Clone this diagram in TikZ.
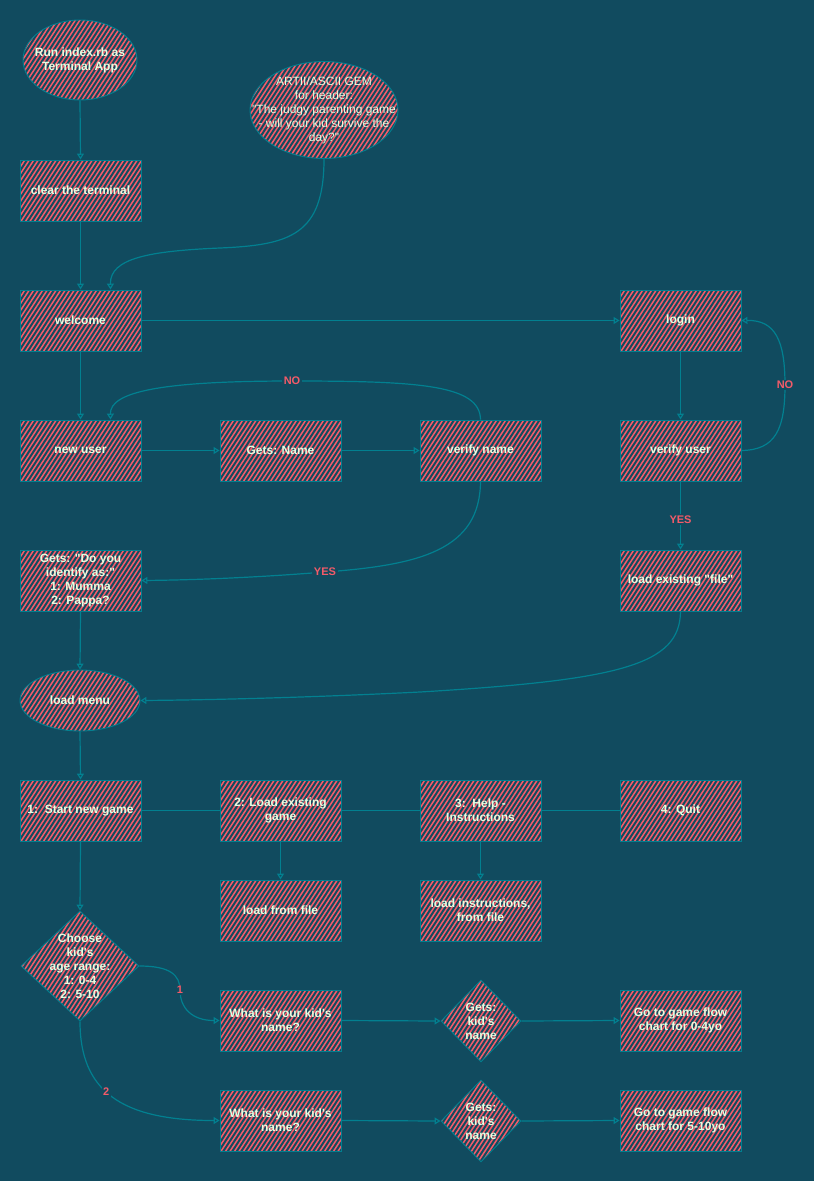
\documentclass[tikz,border=0pt]{standalone}
\usepackage{fontspec}
\setmainfont{Liberation Sans}[Ligatures=TeXOff]
\usetikzlibrary{shapes.geometric,arrows.meta}
\definecolor{bg}{HTML}{114B5F}
\definecolor{hatchred}{HTML}{F45B69}
\definecolor{edgeteal}{HTML}{028090}
\definecolor{txt}{HTML}{E4FDE1}
\begin{document}
\begin{tikzpicture}[x=1pt,y=-1pt,
  hatch/.style={path picture={
    \foreach \k in {-125,-120.5,...,125}{
      \draw[line width=1.5pt, hatchred] ([xshift=\k pt]path picture bounding box.center) ++(237:80pt) -- ++(57:160pt);
    }}},
  nodetext/.style={text=txt, font=\bfseries\fontsize{12}{14}\selectfont, align=center, inner sep=0pt},
  plaintext/.style={text=txt, font=\fontsize{12}{14}\selectfont, align=center, inner sep=0pt},
  shapebase/.style={draw=edgeteal, line width=0.9pt, hatch, nodetext},
  box/.style={shapebase, rectangle, minimum width=121pt, minimum height=61pt},
  oval/.style={shapebase, ellipse},
  dia/.style={shapebase, diamond},
  flow/.style={draw=edgeteal, line width=1.2pt, -{Triangle[open,length=6pt,width=7pt]}},
  link/.style={draw=edgeteal, line width=1.2pt},
  lbl/.style={fill=bg, text=hatchred, font=\bfseries\fontsize{11}{13}\selectfont, inner sep=1.5pt}
]
\fill[bg] (0,0) rectangle (814,1181);
\useasboundingbox (0,0) rectangle (814,1181);

% start-up
\node[oval, minimum width=114pt, minimum height=80pt,
      label={[nodetext]center:{Run index.rb as\\Terminal App}}] (run) at (80,60) {};
\node[oval, minimum width=148pt, minimum height=97pt,
      label={[plaintext]center:{ARTII/ASCII GEM\\for header:\\"The judgy parenting game\\- will your kid survive the\\day?"}}] (art) at (324,110) {};
\node[box] (clear) at (80.5,190.5) {clear the terminal};

% user handling
\node[box] (welcome) at (80.5,320.5) {welcome};
\node[box] (login) at (680.5,320.5) {login};
\node[box] (newuser) at (80.5,450.5) {new user};
\node[box] (getsname) at (280.5,450.5) {Gets: Name};
\node[box] (verifyname) at (480.5,450.5) {verify name};
\node[box] (verifyuser) at (680.5,450.5) {verify user};
\node[box] (identify) at (80.5,580.5) {Gets: "Do you\\identify as:"\\1: Mumma\\2: Pappa?};
\node[box] (loadfile) at (680.5,580.5) {load existing "file"};

% menu
\node[oval, minimum width=120pt, minimum height=61pt,
      label={[nodetext]center:load menu}] (menu) at (80,700.5) {};
\node[box] (start) at (80.5,810.5) {1:\ \ Start new game};
\node[box] (loadgame) at (280.5,810.5) {2: Load existing\\game};
\node[box] (help) at (480.5,810.5) {3:\ \ Help -\\Instructions};
\node[box] (quit) at (680.5,810.5) {4: Quit};
\node[box] (fromfile) at (280.5,910.5) {load from file};
\node[box] (instr) at (480.5,910.5) {load instructions,\\from file};

% new game
\node[dia, minimum width=118pt, minimum height=110pt,
      label={[nodetext]center:{Choose\\kid's\\age range:\\1: 0-4\\2: 5-10}}] (choose) at (80,966) {};
\node[box] (what1) at (280.5,1020.5) {What is your kid's\\name?};
\node[dia, minimum width=80pt, minimum height=82pt,
      label={[nodetext]center:{Gets:\\kid's\\name}}] (gets1) at (481,1021) {};
\node[box] (goto1) at (680.5,1020.5) {Go to game flow\\chart for 0-4yo};
\node[box] (what2) at (280.5,1120.5) {What is your kid's\\name?};
\node[dia, minimum width=80pt, minimum height=82pt,
      label={[nodetext]center:{Gets:\\kid's\\name}}] (gets2) at (481,1121) {};
\node[box] (goto2) at (680.5,1120.5) {Go to game flow\\chart for 5-10yo};

% connectors
\draw[flow] (run.south) -- (clear.north);
\draw[flow] (clear.south) -- (welcome.north);
\draw[flow] (art.south) .. controls (324,235) and (290,245) .. (220,248)
            .. controls (150,251) and (110,258) .. ([xshift=30pt]welcome.north);
\draw[flow] (welcome.east) -- (login.west);
\draw[flow] (welcome.south) -- (newuser.north);
\draw[flow] (newuser.east) -- (getsname.west);
\draw[flow] (getsname.east) -- (verifyname.west);
\draw[flow] (verifyname.north) .. controls (480,385) and (420,381) .. (292,381) node[lbl]{NO}
            .. controls (160,381) and (110,392) .. ([xshift=30pt]newuser.north);
\draw[flow] (verifyname.south) .. controls (480,550) and (420,565) .. (325,572) node[lbl]{YES}
            .. controls (250,578) and (190,580) .. (identify.east);
\draw[flow] (login.south) -- (verifyuser.north);
\draw[flow] (verifyuser.east) .. controls (775,450) and (785,430) .. (785,385) node[lbl]{NO}
            .. controls (785,340) and (775,320) .. (login.east);
\draw[flow] (verifyuser.south) -- node[lbl,pos=0.56]{YES} (loadfile.north);
\draw[flow] (identify.south) -- (menu.north);
\draw[flow] (loadfile.south) .. controls (680,665) and (620,680) .. (420,692)
            .. controls (300,698) and (200,700) .. (menu.east);
\draw[flow] (menu.south) -- (start.north);
\draw[link] (start.east) -- (loadgame.west);
\draw[link] (loadgame.east) -- (help.west);
\draw[link] (help.east) -- (quit.west);
\draw[flow] (loadgame.south) -- (fromfile.north);
\draw[flow] (help.south) -- (instr.north);
\draw[flow] (start.south) -- (choose.north);
\draw[flow] (choose.east) .. controls (170,966) and (180,975) .. (180,990) node[lbl]{1}
            .. controls (180,1008) and (192,1020.5) .. (what1.west);
\draw[flow] (choose.south) .. controls (80,1090) and (120,1120.5) .. node[lbl,pos=0.45]{2} (what2.west);
\draw[flow] (what1.east) -- (gets1.west);
\draw[flow] (gets1.east) -- (goto1.west);
\draw[flow] (what2.east) -- (gets2.west);
\draw[flow] (gets2.east) -- (goto2.west);
\end{tikzpicture}
\end{document}
